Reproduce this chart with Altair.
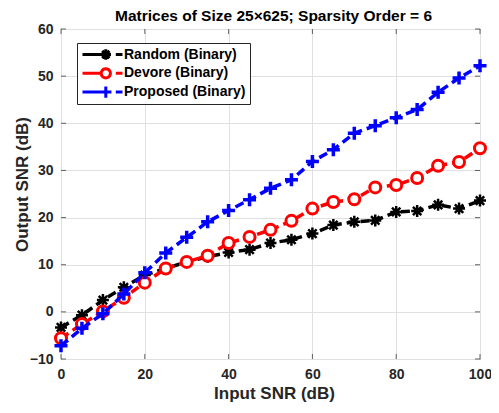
import math
import altair as alt
import pandas as pd

# ---- data ----
snr_in = [0, 5, 10, 15, 20, 25, 30, 35, 40, 45, 50, 55, 60, 65, 70, 75, 80, 85, 90, 95, 100]
random_bin = [-3.3, -0.7, 2.5, 5.2, 7.8, 9.2, 10.6, 11.7, 12.6, 13.2, 14.6, 15.3, 16.6, 18.4, 19.1, 19.4, 21.2, 21.4, 22.7, 21.9, 23.6]
devore_bin = [-5.6, -2.6, 0.1, 3.0, 6.2, 9.2, 10.6, 11.9, 14.6, 15.9, 17.4, 19.3, 21.9, 23.3, 23.9, 26.4, 26.9, 28.4, 31.0, 31.8, 34.7]
proposed_bin = [-7.2, -3.5, -0.4, 3.8, 8.3, 12.5, 15.8, 19.1, 21.5, 23.8, 26.2, 28.0, 31.9, 34.4, 37.9, 39.5, 41.2, 42.9, 46.6, 49.6, 52.2]

series_names = ["Random (Binary)", "Devore (Binary)", "Proposed (Binary)"]
series_colors = ["#000000", "#ff0000", "#0000ff"]
x_ticks = [0, 20, 40, 60, 80, 100]
y_ticks = [-10, 0, 10, 20, 30, 40, 50, 60]

FONT = "Liberation Sans"
W, H = 419, 330

rows = []
for name, vals in zip(series_names, [random_bin, devore_bin, proposed_bin]):
    for xv, yv in zip(snr_in, vals):
        rows.append({"snr": xv, "out": yv, "series": name})
df = pd.DataFrame(rows)
xt = pd.DataFrame({"v": x_ticks})
yt = pd.DataFrame({"v": y_ticks})

xs = alt.Scale(domain=[0, 100], nice=False, zero=False)
ys = alt.Scale(domain=[-10, 60], nice=False, zero=False)

x_axis = alt.Axis(values=x_ticks, title="Input SNR (dB)", grid=True, labelPadding=8,
                  labelFlush=False, titleX=213, titleY=34, titleBaseline="middle",
                  titleAlign="center")
y_axis = alt.Axis(values=y_ticks, title="Output SNR (dB)", grid=True, labelPadding=8,
                  titleX=-39, titleY=155, titleBaseline="middle", titleAlign="center",
                  titleAngle=270)

# marker shapes (unit box -1..1)
asterisk = "M-1,0L1,0M0,-1L0,1M-0.7,-0.7L0.7,0.7M-0.7,0.7L0.7,-0.7"
plus = "M-1,0L1,0M0,-1L0,1"

# ---- legend symbols: line + marker + dash (built in px, converted to symbol units) ----
LEG_PAD = 4
SYM = 14                       # symbol box side (px), symbolSize = SYM**2
CEN = LEG_PAD + SYM / 2        # symbol centre from legend left edge


def u(px):
    return (px - CEN) / (SYM / 2)


def f(v):
    return f"{v:.3f}"


line_start, mk_c, dash_a, dash_b = 4, 27.3, 37.3, 44.0


def seg(a, b):
    return f"M{f(u(a))},0L{f(u(b))},0"


def pt(px, py):
    return f"{f(u(px))},{f(py / (SYM / 2))}"


def asterisk_leg():
    r = 5.2
    d = r * 0.7
    c = mk_c
    return (f"M{pt(c - r, 0)}L{pt(c + r, 0)}M{pt(c, -r)}L{pt(c, r)}"
            f"M{pt(c - d, -d)}L{pt(c + d, d)}M{pt(c - d, d)}L{pt(c + d, -d)}")


def circle_leg():
    r = 4.6
    pts = [pt(mk_c + r * math.cos(2 * math.pi * k / 20), r * math.sin(2 * math.pi * k / 20)) for k in range(20)]
    return "M" + "L".join(pts) + "Z"


def plus_leg():
    r = 5.6
    return f"M{pt(mk_c, -r)}L{pt(mk_c, r)}"


leg_random = seg(line_start, mk_c + 5) + seg(dash_a, dash_b) + asterisk_leg()
leg_devore = seg(line_start, mk_c - 4.6) + seg(dash_a, dash_b) + circle_leg()
leg_proposed = seg(line_start, mk_c + 5.6) + seg(dash_a, dash_b) + plus_leg()

base = alt.Chart(df)

tick_style = dict(color="#262626", thickness=1, size=5)
ticks = [
    alt.Chart(xt).mark_tick(**tick_style).encode(x=alt.X("v:Q", scale=xs, axis=x_axis), y=alt.value(H - 2.5)),
    alt.Chart(xt).mark_tick(**tick_style).encode(x=alt.X("v:Q", scale=xs, axis=x_axis), y=alt.value(2.5)),
    alt.Chart(yt).mark_tick(**tick_style).encode(y=alt.Y("v:Q", scale=ys, axis=y_axis), x=alt.value(2.5)),
    alt.Chart(yt).mark_tick(**tick_style).encode(y=alt.Y("v:Q", scale=ys, axis=y_axis), x=alt.value(W - 2.5)),
]

series_layers = []
marker_specs = {
    "Random (Binary)": dict(shape=asterisk, size=144, strokeWidth=2.5, filled=False),
    "Devore (Binary)": dict(shape="circle", size=121, strokeWidth=3, filled=False, fill="#ffffff"),
    "Proposed (Binary)": dict(shape=plus, size=169, strokeWidth=3.5, filled=False),
}
for name, col in zip(series_names, series_colors):
    sub = base.transform_filter(alt.datum.series == name)
    enc = dict(x=alt.X("snr:Q", scale=xs, axis=x_axis), y=alt.Y("out:Q", scale=ys, axis=y_axis))
    line = sub.mark_line(color=col, strokeWidth=3.5, strokeDash=[9, 5]).encode(**enc)
    pts = sub.mark_point(color=col, stroke=col, opacity=1, **marker_specs[name]).encode(**enc)
    series_layers += [line, pts]

legend_layer = base.transform_filter("false").mark_point(filled=False, strokeWidth=3, opacity=1).encode(
    x=alt.X("snr:Q", scale=xs, axis=x_axis),
    y=alt.Y("out:Q", scale=ys, axis=y_axis),
    color=alt.Color("series:N", scale=alt.Scale(domain=series_names, range=series_colors),
                    legend=alt.Legend(title=None, orient="none", legendX=16, legendY=14)),
    shape=alt.Shape("series:N", scale=alt.Scale(domain=series_names,
                                                range=[leg_random, leg_devore, leg_proposed])),
)

chart = alt.layer(*ticks, *series_layers, legend_layer).properties(
    width=W, height=H,
    title=alt.TitleParams("Matrices of Size 25\u00d7625; Sparsity Order = 6", font=FONT, fontSize=15.5,
                          fontWeight="bold", color="#000000", anchor="middle", offset=6, dx=3,
                          dy=8, frame="group"),
    autosize=alt.AutoSizeParams(type="none"),
    padding={"left": 53, "top": 21, "right": 11, "bottom": 43},
).configure_view(
    stroke="#262626", strokeWidth=1
).configure_axis(
    labelFont=FONT, labelFontSize=14, labelFontWeight="bold", labelColor="#262626",
    titleFont=FONT, titleFontSize=17, titleFontWeight="bold", titleColor="#262626",
    gridColor="#e0e0e0", gridWidth=1, domain=False, ticks=False,
).configure_legend(
    labelFont=FONT, labelFontSize=14, labelFontWeight="bold", labelColor="#000000",
    symbolSize=SYM * SYM, symbolStrokeWidth=3, symbolOffset=0, labelOffset=26,
    padding=LEG_PAD, rowPadding=3.8, clipHeight=15, strokeColor="#262626", fillColor="#ffffff",
    symbolFillColor="transparent", labelLimit=300,
)

chart.save("out.html", embed_options={"renderer": "svg", "actions": False})
